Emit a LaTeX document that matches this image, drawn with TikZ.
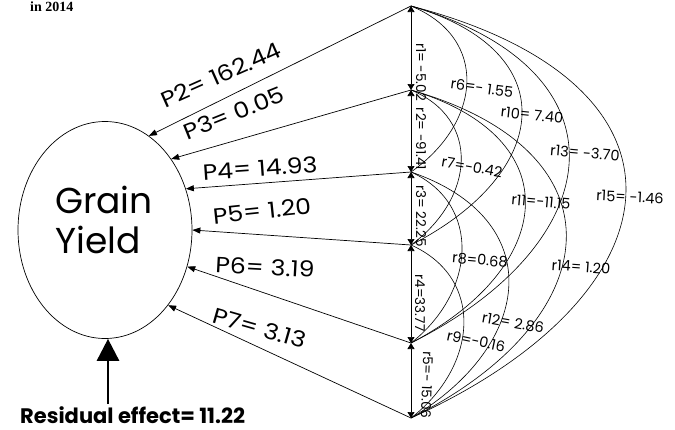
\documentclass[tikz,border=0pt]{standalone}
\usepackage{fontspec}
\setmainfont{Poppins}
\newfontfamily\widefont[FakeStretch=1.14]{Poppins}
\newfontfamily\serifb{Liberation Serif}
\usetikzlibrary{arrows.meta,calc,shapes.geometric}
\begin{document}
\begin{tikzpicture}[x=1pt,y=-1pt,
  thinline/.style={line width=0.7pt},
  parrow/.style={line width=0.7pt,-{Triangle[width=6pt,length=8pt]}},
  rarrow/.style={line width=0.7pt,{Triangle[width=7pt,length=6pt]}-{Triangle[width=7pt,length=6pt]}},
  arcline/.style={line width=0.6pt},
  plabel/.style={font=\widefont\fontsize{22}{24}\selectfont, inner sep=0pt},
  rlabel/.style={font=\fontsize{14.5}{16}\selectfont, inner sep=0pt},
  vlabel/.style={font=\fontsize{13.5}{15}\selectfont, inner sep=0pt},
  biglabel/.style={font=\fontsize{36}{40}\selectfont, inner sep=0pt, anchor=base west},
]
\useasboundingbox (0,0) rectangle (675,429);
% title fragment
\node[font=\serifb\bfseries\fontsize{14}{15}\selectfont, inner sep=0pt, anchor=base west] (title) at (30,11) {in 2014};
% ellipse
\node[draw, thinline, ellipse, minimum width=174pt, minimum height=217pt, inner sep=0pt] (gy) at (105,230) {};
\node[biglabel] (grain) at (55,213) {Grain};
\node[biglabel] (yield) at (55,253) {Yield};
% vertices
\coordinate (V1) at (411,6);
\coordinate (V2) at (411,90);
\coordinate (V3) at (411,172);
\coordinate (V4) at (411,245);
\coordinate (V5) at (411,343);
\coordinate (V6) at (411,418);
% vertical double arrows
\draw[rarrow] (V1) -- (V2);
\draw[rarrow] (V2) -- (V3);
\draw[rarrow] (V3) -- (V4);
\draw[rarrow] (V4) -- (V5);
\draw[rarrow] (V5) -- (V6);
% path arrows
\draw[parrow] (V1) -- (gy.65.3);
\draw[parrow] (V2) -- (gy.47.1);
\draw[parrow] (V3) -- (gy.27.7);
\draw[parrow] (V4) -- (gy.0.7);
\draw[parrow] (V5) -- (gy.-24);
\draw[parrow] (V6) -- (gy.-50.3);
% path labels
\node[plabel, rotate=24] (p2) at (221,75) {P2= 162.44};
\node[plabel, rotate=22] (p3) at (234,113) {P3= 0.05};
\node[plabel, rotate=4] (p4) at (260,168) {P4= 14.93};
\node[plabel, rotate=6] (p5) at (262,211) {P5= 1.20};
\node[plabel, rotate=-3] (p6) at (265,267) {P6= 3.19};
\node[plabel, rotate=-16] (p7) at (260,328) {P7= 3.13};
% correlation arcs
\draw[arcline] (V1) .. controls ($(V1)+(78,32)$) and ($(V3)+(71,-50)$) .. (V3);
\draw[arcline] (V1) .. controls ($(V1)+(155,45)$) and ($(V4)+(141,-72)$) .. (V4);
\draw[arcline] (V1) .. controls ($(V1)+(221,64)$) and ($(V5)+(201,-101)$) .. (V5);
\draw[arcline] (V1) .. controls ($(V1)+(300,78)$) and ($(V6)+(273,-124)$) .. (V6);
\draw[arcline] (V2) .. controls ($(V2)+(70,29)$) and ($(V4)+(64,-47)$) .. (V4);
\draw[arcline] (V2) .. controls ($(V2)+(160,48)$) and ($(V5)+(145,-76)$) .. (V5);
\draw[arcline] (V2) .. controls ($(V2)+(217,62)$) and ($(V6)+(197,-98)$) .. (V6);
\draw[arcline] (V3) .. controls ($(V3)+(71,32)$) and ($(V5)+(65,-51)$) .. (V5);
\draw[arcline] (V3) .. controls ($(V3)+(137,47)$) and ($(V6)+(124,-74)$) .. (V6);
\draw[arcline] (V4) .. controls ($(V4)+(74,33)$) and ($(V6)+(67,-52)$) .. (V6);
% vertical labels
\node[vlabel, rotate=-90] (r1) at (421,72) {r1= -5.02};
\node[vlabel, rotate=-90] (r2) at (421,139) {r2= -91.41};
\node[vlabel, rotate=-90] (r3) at (421,216) {r3= 22.25};
\node[vlabel, rotate=-90] (r4) at (420,303) {r4=33.77};
\node[vlabel, rotate=-92] (r5) at (427,385) {r5=- 15.06};
% arc labels
\node[rlabel, rotate=-8] (r6) at (482,88) {r6=- 1.55};
\node[rlabel, rotate=-6] (r10) at (532,115) {r10= 7.40};
\node[rlabel, rotate=-5] (r13) at (585,153) {r13= -3.70};
\node[rlabel, rotate=-3] (r15) at (630,197) {r15= -1.46};
\node[rlabel, rotate=-10] (r7) at (472,167) {r7=-0.42};
\node[rlabel, rotate=-5] (r11) at (541,202) {r11=-11.15};
\node[rlabel, rotate=-5] (r8) at (480,260) {r8=0.68};
\node[rlabel, rotate=-4] (r14) at (581,267) {r14= 1.20};
\node[rlabel, rotate=-10] (r12) at (513,323) {r12= 2.86};
\node[rlabel, rotate=-12] (r9) at (476,341) {r9=-0.16};
% residual
\node[font=\bfseries\fontsize{21}{23}\selectfont, inner sep=0pt, anchor=base west] (res) at (20,423) {Residual effect= 11.22};
\coordinate (rb) at (108,404);
\draw[line width=2.8pt, -{Triangle[width=22pt,length=22pt]}] (rb) -- (rb |- gy.south);
\end{tikzpicture}
\end{document}
